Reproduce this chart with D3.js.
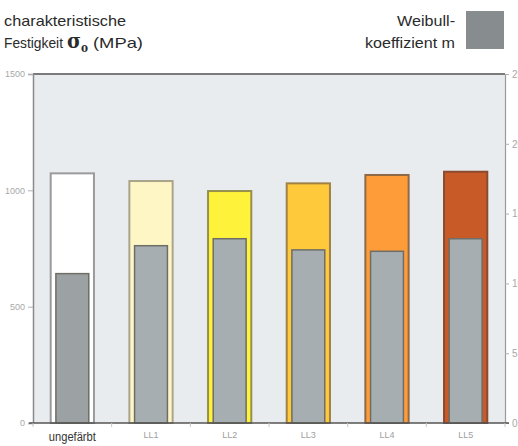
<!DOCTYPE html>
<html><head><meta charset="utf-8">
<script src="https://cdn.jsdelivr.net/npm/d3@7/dist/d3.min.js"></script>
<style>
html,body{margin:0;padding:0;background:#fff;}
svg{display:block;}
</style></head>
<body><svg id="c" width="518" height="446"></svg>
<script>
const categories = ["ungefärbt","LL1","LL2","LL3","LL4","LL5"];
const strength = [1073, 1040, 997, 1030, 1066, 1080];      // σo (MPa), left axis
const weibull = [10.7, 12.7, 13.2, 12.4, 12.3, 13.2];       // Weibull m, right axis
const barFill = ["#ffffff","#fff6c6","#fff23a","#ffc93c","#ff9c3a","#c85a28"];
const barStroke = ["#9a9a9a","#aaa48a","#96904c","#a08246","#8e6a48","#8a4a30"];
const leftTicks = [0, 500, 1000, 1500];
const rightTicks = [0, 5, 10, 15, 20, 25];

const svg = d3.select("#c");
const font = "'Liberation Sans Narrow','Arial Narrow','Liberation Sans',Arial,sans-serif";
const serif = "'DejaVu Serif','Liberation Serif',serif";
const m = {left:33, right:505, top:74, bottom:423};

const x = d3.scaleBand().domain(categories).range([m.left, m.right]).paddingInner(0.45).paddingOuter(0.225);
const yL = d3.scaleLinear().domain([0,1500]).range([m.bottom, m.top]);
const yR = d3.scaleLinear().domain([0,25]).range([m.bottom, m.top]);

// plot background
svg.append("rect").attr("x", m.left).attr("y", m.top).attr("width", m.right-m.left).attr("height", m.bottom-m.top).attr("fill","#e9ecef");

// outer bars
svg.selectAll("rect.outer").data(categories).enter().append("rect")
  .attr("class","outer")
  .attr("x", d => x(d)).attr("width", x.bandwidth())
  .attr("y", (d,i) => yL(strength[i])).attr("height", (d,i) => m.bottom - yL(strength[i]))
  .attr("fill", (d,i) => barFill[i]).attr("stroke", (d,i) => barStroke[i]).attr("stroke-width", 2);

// inner bars (Weibull)
const inW = x.bandwidth()*0.76;
svg.selectAll("rect.inner").data(categories).enter().append("rect")
  .attr("class","inner")
  .attr("x", d => x(d) + (x.bandwidth()-inW)/2).attr("width", inW)
  .attr("y", (d,i) => yR(weibull[i])).attr("height", (d,i) => m.bottom - yR(weibull[i]))
  .attr("fill", (d,i) => i===0 ? "#9ca2a4" : "#a6aeb2").attr("stroke","#6e6e66").attr("stroke-width", 1.5);

// frame lines
svg.append("line").attr("x1", m.left).attr("x2", m.right).attr("y1", m.top).attr("y2", m.top).attr("stroke","#7a7a7a").attr("stroke-width",2);

// left axis
const gL = svg.append("g").attr("transform",`translate(${m.left},0)`)
  .call(d3.axisLeft(yL).tickValues(leftTicks).tickSize(5).tickPadding(3).tickFormat(d3.format("d")));
gL.select(".domain").attr("stroke","#8a8a8a").attr("stroke-width",1.5);
gL.selectAll(".tick line").attr("stroke","#b0b0b0");
gL.selectAll(".tick text").attr("fill","#a8a8a8").style("font-family",font).style("font-size","9px");

// right axis
const gR = svg.append("g").attr("transform",`translate(${m.right},0)`)
  .call(d3.axisRight(yR).tickValues(rightTicks).tickSize(4).tickPadding(3));
gR.select(".domain").attr("stroke","#9a9a9a").attr("stroke-width",1.2);
gR.selectAll(".tick line").attr("stroke","#b0b0b0");
gR.selectAll(".tick text").attr("fill","#a8a8a8").style("font-family",font).style("font-size","10px");

// bottom axis
const gB = svg.append("g").attr("transform",`translate(0,${m.bottom})`)
  .call(d3.axisBottom(x).tickSize(0).tickPadding(9));
gB.select(".domain").attr("d", `M${m.left-4},0H${m.right+4}`).attr("stroke","#555").attr("stroke-width",1.5);
gB.selectAll(".tick text").style("font-family",font)
  .style("font-size", d => d===categories[0] ? "12px" : "9px")
  .attr("fill", d => d===categories[0] ? "#333" : "#a0a0a0")
  .each(function(d){ if (d===categories[0]) d3.select(this).attr("textLength",47).attr("lengthAdjust","spacingAndGlyphs"); });
// small boundary ticks between categories
const step = x.step();
svg.append("g").selectAll("line").data(d3.range(categories.length+1)).enter().append("line")
  .attr("x1", i => m.left + i*step).attr("x2", i => m.left + i*step)
  .attr("y1", m.bottom).attr("y2", m.bottom+4).attr("stroke","#c8c8c8");

// header texts (condensed via textLength)
function hdr(xp, yp, anchor, len, txt, fam, size, weight){
  const t = svg.append("text").attr("x",xp).attr("y",yp).attr("text-anchor",anchor).attr("fill","#2a2a2a")
    .style("font-family",fam||font).style("font-size",(size||15)+"px").text(txt);
  if (weight) t.style("font-weight",weight);
  if (len) t.attr("textLength",len).attr("lengthAdjust","spacingAndGlyphs");
  return t;
}
hdr(4, 26, "start", 122, "charakteristische");
hdr(4, 48, "start", 59, "Festigkeit");
hdr(67, 48, "start", 14, "σ", serif, 21, "bold");
hdr(81, 52, "start", 7, "o", serif, 13, "bold");
hdr(93, 48, "start", 50, "(MPa)");

hdr(455, 26, "end", 58, "Weibull-");
hdr(455, 48, "end", 90, "koeffizient m");
svg.append("rect").attr("x",466).attr("y",11).attr("width",38).attr("height",38).attr("fill","#878d8f");
</script></body></html>
